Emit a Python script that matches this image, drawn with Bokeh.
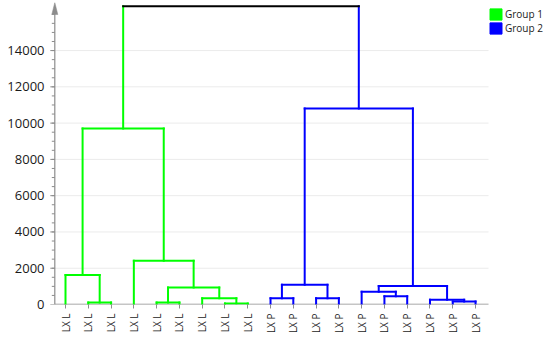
import math
from bokeh.plotting import figure
from bokeh.models import (Range1d, FixedTicker, Legend, LegendItem, ColumnDataSource)
from bokeh.embed import file_html
from bokeh.resources import INLINE

# ---------------- data ----------------
leaf_labels = ["LX L"] * 9 + ["LX P"] * 10
leaf_groups = [1] * 9 + [2] * 10
group_names = ["Group 1", "Group 2"]
group_colors = ["#00ff00", "#0000ff"]
link_color = "#000000"

# merges: leaves are nodes 0..18, merge k creates node 19+k
merge_left = [1, 0, 4, 7, 6, 21, 3, 20, 9, 11, 27, 14, 13, 17, 16, 31, 29, 26]
merge_right = [2, 19, 5, 8, 22, 23, 24, 25, 10, 12, 28, 15, 30, 18, 32, 33, 34, 35]
merge_height = [110, 1620, 110, 60, 350, 940, 2410, 9700,
                350, 350, 1090, 460, 700, 160, 260, 1020, 10800, 16450]

y_ticks = [0, 2000, 4000, 6000, 8000, 10000, 12000, 14000]
y_minor_ticks = list(range(500, 16001, 500))

# ---------------- build dendrogram segments ----------------
n = len(leaf_labels)
node_x = [float(i) for i in range(n)]
node_h = [0.0] * n
node_g = leaf_groups[:]


def col(g):
    return group_colors[g - 1] if g else link_color


seg = dict(x0=[], y0=[], x1=[], y1=[], c=[])


def add(x0, y0, x1, y1, c):
    seg["x0"].append(x0); seg["y0"].append(y0)
    seg["x1"].append(x1); seg["y1"].append(y1); seg["c"].append(c)


for l, r, h in zip(merge_left, merge_right, merge_height):
    xl, xr = node_x[l], node_x[r]
    g = node_g[l] if node_g[l] == node_g[r] else 0
    add(xl, node_h[l], xl, h, col(node_g[l]))
    add(xr, node_h[r], xr, h, col(node_g[r]))
    add(xl, h, xr, h, col(g))
    node_x.append((xl + xr) / 2)
    node_h.append(h)
    node_g.append(g)

# ---------------- layout constants ----------------
W, H = 550, 338
border_left, border_top, border_bottom = 48, 2, 34
axis_x = -0.47          # data x where the value axis stands
plot_end = 18.57        # right end of plotting area (grid / x axis line)
leaf_px = 22.78         # pixels per leaf
y_max = 16650
frame_w = W - border_left
frame_h = H - border_top - border_bottom
x_start = axis_x - 6.3 / leaf_px
x_end = x_start + frame_w / leaf_px
px_y = frame_h / y_max

axis_col = "#8c8c8c"
p = figure(width=W, height=H, output_backend="svg", toolbar_location=None,
           x_range=Range1d(x_start, x_end), y_range=Range1d(0, y_max),
           min_border_left=border_left, min_border_right=0,
           min_border_top=border_top, min_border_bottom=border_bottom)
p.outline_line_color = None

# grid lines and x axis line, limited to the plotting area
p.segment(x0=axis_x, x1=plot_end, y0="y", y1="y",
          source=ColumnDataSource(dict(y=y_ticks[1:])),
          line_color="#ebebeb", line_width=1)
p.segment(x0=[axis_x], x1=[plot_end], y0=[0], y1=[0], line_color=axis_col,
          line_width=1.5)

# value axis line, its ticks and arrow head
p.segment(x0=[axis_x], x1=[axis_x], y0=[0], y1=[y_max - 300], line_color=axis_col,
          line_width=1.2)
p.segment(x0=axis_x - 4.5 / leaf_px, x1=axis_x, y0="y", y1="y",
          source=ColumnDataSource(dict(y=y_ticks)), line_color=axis_col, line_width=1)
p.segment(x0=axis_x - 3 / leaf_px, x1=axis_x, y0="y", y1="y",
          source=ColumnDataSource(dict(y=y_minor_ticks)), line_color=axis_col,
          line_width=1)
hw, hl = 3 / leaf_px, 12 / px_y
p.patch(x=[axis_x - hw, axis_x, axis_x + hw], y=[y_max - hl, y_max, y_max - hl],
        fill_color=axis_col, line_color=axis_col, line_width=0.5)

# dendrogram
p.segment(x0="x0", y0="y0", x1="x1", y1="y1", color="c", line_width=2,
          line_cap="square", source=ColumnDataSource(seg))

# y axis: labels only (line and ticks drawn above)
p.yaxis.ticker = FixedTicker(ticks=y_ticks, minor_ticks=[])
p.yaxis.axis_line_color = None
p.yaxis.major_tick_line_color = None
p.yaxis.minor_tick_line_color = None
p.yaxis.major_tick_out = 0
p.yaxis.major_tick_in = 0
p.yaxis.minor_tick_out = 0
p.yaxis.minor_tick_in = 0
p.yaxis.major_label_text_font = "Open Sans"
p.yaxis.major_label_text_font_size = "13px"
p.yaxis.major_label_text_color = "#1a1a1a"
p.yaxis.major_label_standoff = 4

# x axis (ticks and labels only; line drawn above)
p.xaxis.ticker = FixedTicker(ticks=list(range(n)), minor_ticks=[])
p.xaxis.major_label_overrides = {i: lab for i, lab in enumerate(leaf_labels)}
p.xaxis.major_label_orientation = math.pi / 2
p.xaxis.axis_line_color = None
p.xaxis.major_tick_line_color = axis_col
p.xaxis.major_tick_out = 4
p.xaxis.major_tick_in = 0
p.xaxis.major_label_text_font = "Open Sans"
p.xaxis.major_label_text_font_size = "10px"
p.xaxis.major_label_text_color = "#1a1a1a"
p.xaxis.major_label_standoff = 5

p.xgrid.visible = False
p.ygrid.visible = False

# legend
items = []
for name, c in zip(group_names, group_colors):
    r = p.quad(left=[0], right=[0], top=[0], bottom=[0], fill_color=c, line_color=c)
    items.append(LegendItem(label=name, renderers=[r]))
legend = Legend(items=items, location=(440, 269), orientation="vertical",
                glyph_width=15, glyph_height=14, label_height=14,
                label_standoff=2, spacing=0, padding=0, margin=0,
                border_line_color=None, background_fill_alpha=0,
                label_text_font="Open Sans", label_text_font_size="10px",
                label_text_color="#222222")
p.add_layout(legend, "center")

open("out.html", "w").write(file_html(p, INLINE))
